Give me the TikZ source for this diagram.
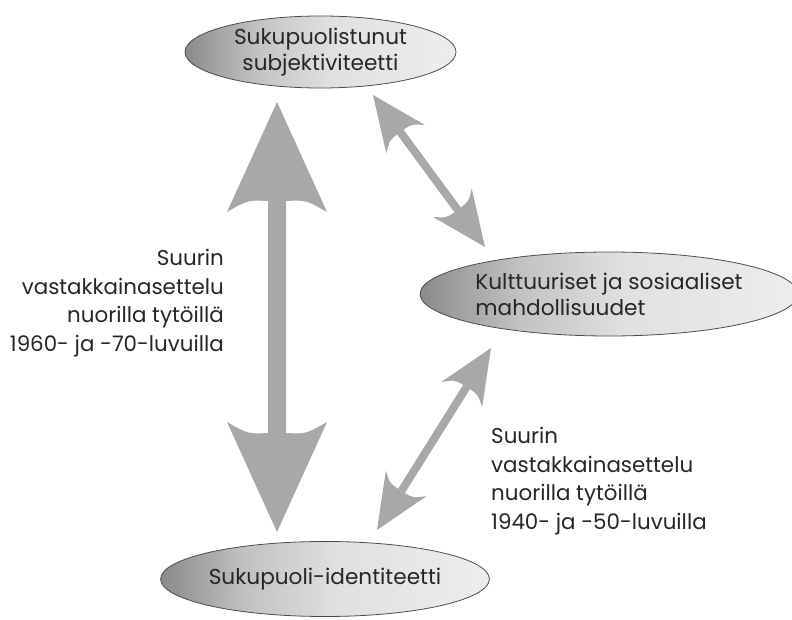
\documentclass[tikz,border=0pt]{standalone}
\usepackage{fontspec}
\setmainfont{Poppins}
\usetikzlibrary{calc,shapes.geometric}
\pgfdeclarehorizontalshading{ellshade}{100bp}{color(0bp)=(black!46); color(25bp)=(black!46); color(38bp)=(black!24); color(52bp)=(black!12); color(75bp)=(black!7); color(100bp)=(black!7)}
\newlength\tmpw
\newcommand\fitsize[3]{%
  \settowidth{\tmpw}{\normalfont\rmfamily\fontsize{10}{12}\selectfont #2}%
  \pgfmathsetmacro#1{10*#3/\tmpw}}
\AtBeginDocument{%
  \fitsize{\lblsize}{vastakkainasettelu}{202}%
  \fitsize{\ellsize}{Sukupuolistunut}{173}}
\tikzset{
  ell/.style={ellipse, draw=black!70, line width=0.8pt, shade, shading=ellshade, inner sep=0pt,
    text=black!85, font=\fontsize{\ellsize}{26}\selectfont},
  lbl/.style={text=black!85, inner sep=0pt, font=\fontsize{\lblsize}{28.7}\selectfont},
  blk/.style={fill=black!34, draw=none},
}
% #1 A, #2 B, #3 shaft half width, #4 head length, #5 head half width, #6 notch,
% #7 control point distance along, #8 control point offset (concave back edge)
\newcommand\dblarrow[8]{%
  \fill[blk] (#1)
    -- ($(#1)!#4!(#2)!#5!90:(#2)$)
    .. controls ($(#1)!#7!(#2)!#8!90:(#2)$) .. ($(#1)!#6!(#2)!#3!90:(#2)$)
    -- ($(#2)!#6!(#1)!#3!-90:(#1)$)
    .. controls ($(#2)!#7!(#1)!#8!-90:(#1)$) .. ($(#2)!#4!(#1)!#5!-90:(#1)$)
    -- (#2)
    -- ($(#2)!#4!(#1)!#5!90:(#1)$)
    .. controls ($(#2)!#7!(#1)!#8!90:(#1)$) .. ($(#2)!#6!(#1)!#3!90:(#1)$)
    -- ($(#1)!#6!(#2)!#3!-90:(#2)$)
    .. controls ($(#1)!#7!(#2)!#8!-90:(#2)$) .. ($(#1)!#4!(#2)!#5!-90:(#2)$)
    -- cycle;}
\begin{document}
\begin{tikzpicture}[x=1pt,y=-1pt]
\useasboundingbox (0,0) rectangle (792,620);
% ellipses
\node[ell, minimum width=271pt, minimum height=72pt, align=center] (subj) at (320.5,52)
  {Sukupuolistunut\\subjektiviteetti};
\node[ell, minimum width=355pt, minimum height=84pt, align=left] (kult) at (609,294)
  {Kulttuuriset ja sosiaaliset\\mahdollisuudet};
\node[ell, minimum width=284pt, minimum height=75pt] (ident) at (325,579)
  {Sukupuoli-identiteetti};
% arrow tips
\coordinate (v1) at (277,102);
\coordinate (v2) at (277,532);
\coordinate (d1) at (373,95);
\coordinate (d2) at (485,247);
\coordinate (e1) at (491,348);
\coordinate (e2) at (377,530);
\dblarrow{v1}{v2}{9pt}{110pt}{50pt}{99pt}{98pt}{29pt}
\dblarrow{d1}{d2}{4pt}{55pt}{24pt}{46pt}{46.5pt}{14pt}
\dblarrow{e1}{e2}{4pt}{55pt}{24pt}{46pt}{46.5pt}{14pt}
% labels
\node[lbl, anchor=north east, align=right] (l60) at (224,249)
  {Suurin\\vastakkainasettelu\\nuorilla tytöillä\\1960- ja -70-luvuilla};
\node[lbl, anchor=north west, align=left] (l40) at (491,427)
  {Suurin\\vastakkainasettelu\\nuorilla tytöillä\\1940- ja -50-luvuilla};
\end{tikzpicture}
\end{document}
